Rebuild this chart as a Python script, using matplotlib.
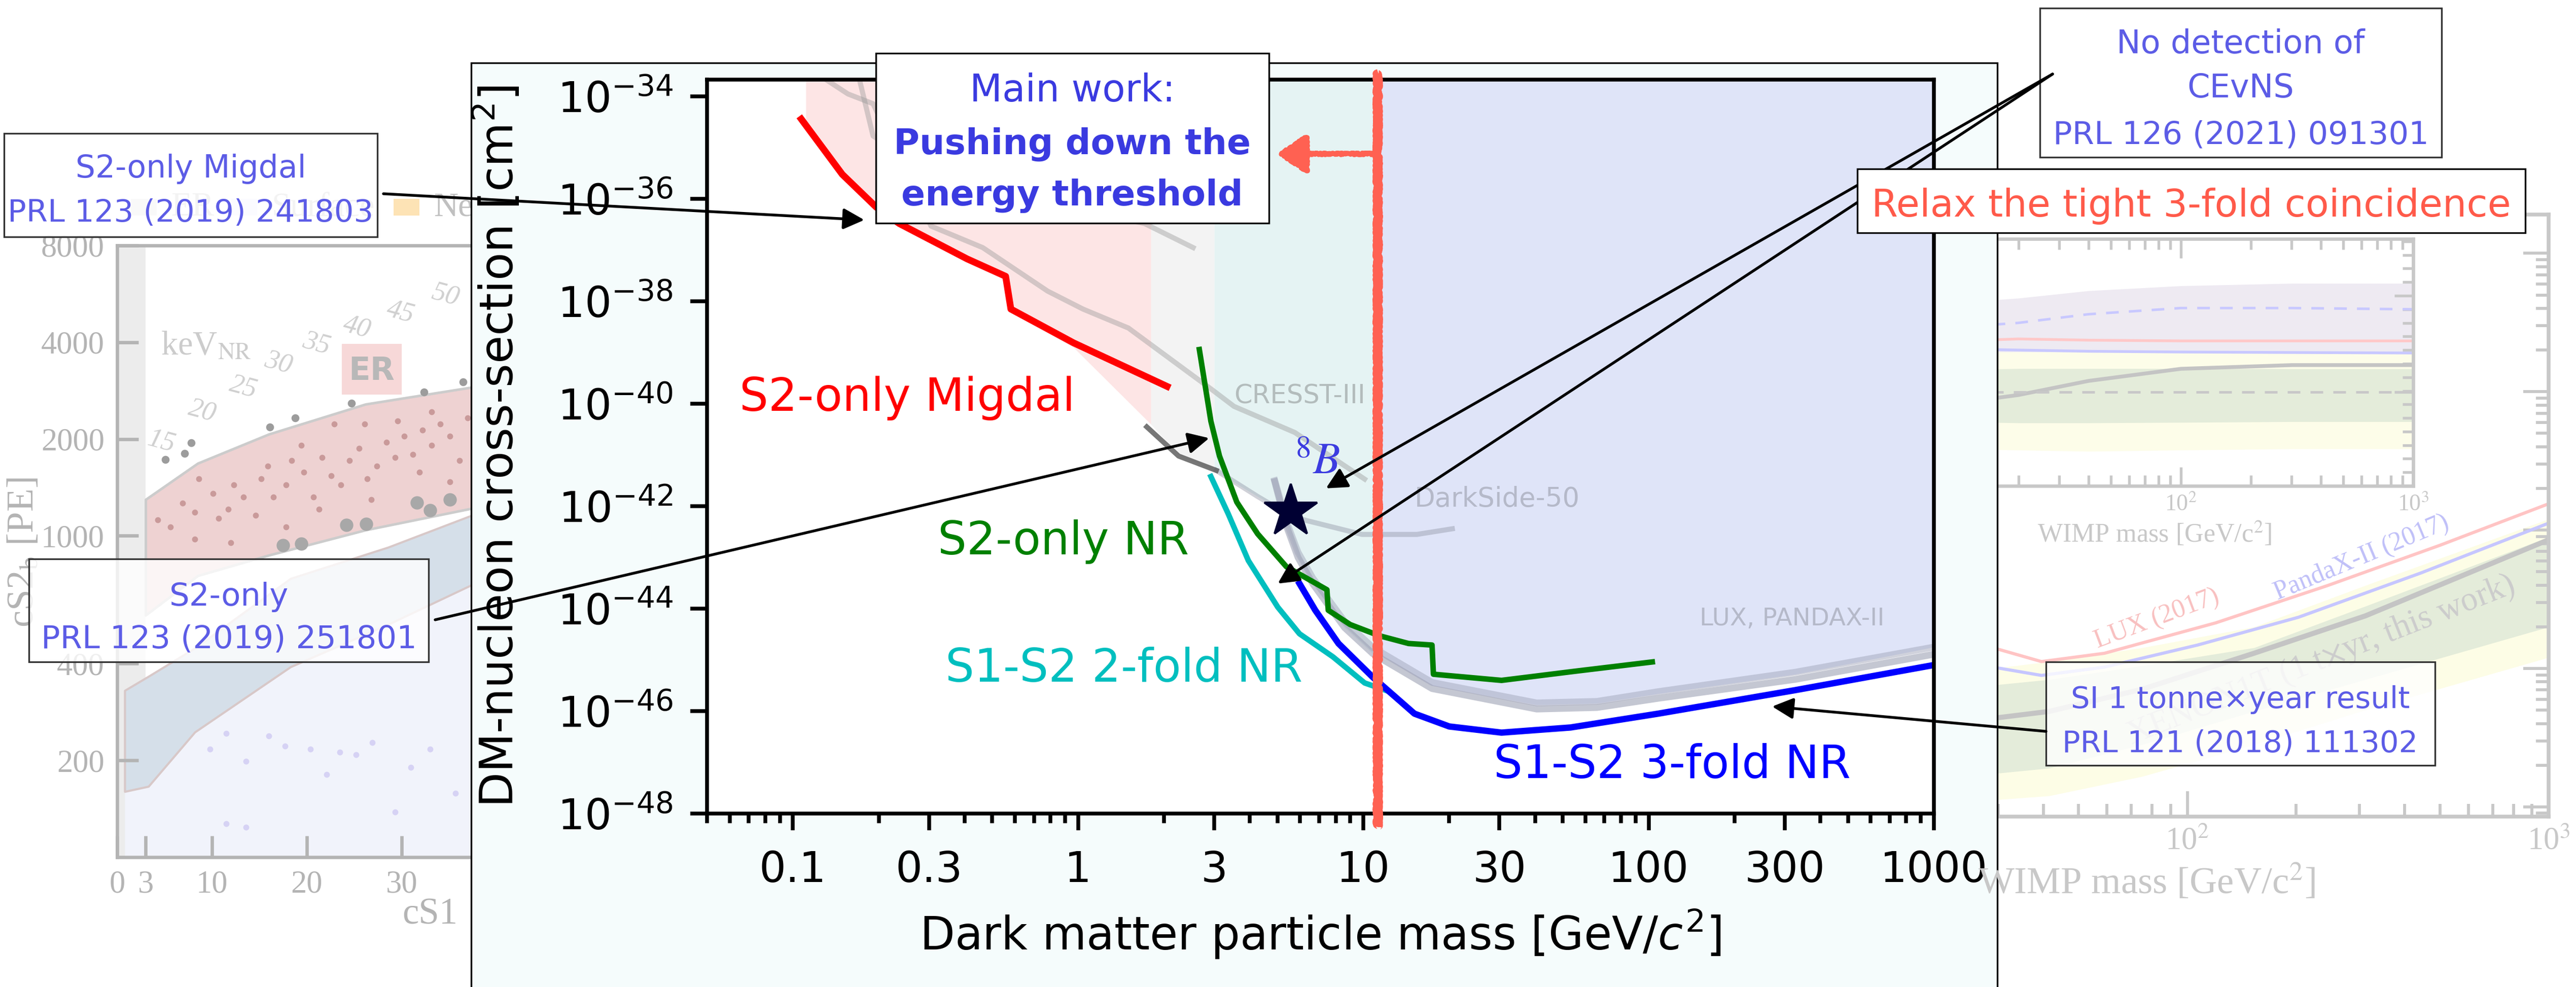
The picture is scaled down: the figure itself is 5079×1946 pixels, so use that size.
import numpy as np
import matplotlib.pyplot as plt
from matplotlib.patches import Rectangle, ConnectionPatch
from matplotlib.ticker import NullFormatter, NullLocator, MultipleLocator

W, H, DPI = 5079, 1946, 300

# ---------------------------------------------------------------
# main chart: DM mass [GeV/c^2] vs log10(cross-section / cm^2)
# ---------------------------------------------------------------
migdal_mass = [0.107, 0.149, 0.196, 0.236, 0.408, 0.557, 0.581, 0.964, 2.05]
migdal_logxs = [-34.44, -35.52, -36.16, -36.48, -37.17, -37.51, -38.15, -38.81, -39.66]

s2nr_mass = [2.66, 2.92, 3.13, 3.60, 4.26, 5.37, 7.45, 7.53, 8.99, 11.4, 14.4, 17.4, 17.6, 30.5, 55.5, 103]
s2nr_logxs = [-38.94, -40.34, -41.02, -41.92, -42.54, -43.18, -43.63, -44.03, -44.31, -44.53,
              -44.68, -44.71, -45.28, -45.40, -45.22, -45.04]

twofold_mass = [2.92, 3.36, 3.95, 5.01, 5.97, 7.82, 10.1, 12.2]
twofold_logxs = [-41.42, -42.15, -43.06, -43.97, -44.49, -44.94, -45.45, -45.61]

threefold_mass = [5.97, 6.78, 8.18, 10.8, 15.1, 20.0, 30.5, 53.2, 108, 327, 1000]
threefold_logxs = [-43.51, -44.03, -44.68, -45.34, -46.05, -46.30, -46.42, -46.32, -46.05, -45.59, -45.10]

# other experiments (faded grey)
cresst_mass = [0.125, 0.156, 0.191, 0.305, 0.463, 0.782, 1.04, 1.50, 2.94, 3.52, 5.75, 10.1]
cresst_logxs = [-33.6, -33.95, -34.14, -36.53, -36.95, -37.80, -38.15, -38.52, -39.72, -40.05, -40.56, -41.47]
cresst2_mass = [0.170, 0.191, 0.35, 1.0, 1.71, 2.53]
cresst2_logxs = [-33.6, -34.77, -35.7, -36.2, -36.48, -36.95]
ds50_mass = [1.74, 2.25, 3.05, 4.26, 5.64, 9.89, 15.4, 20.5]
ds50_logxs = [-40.45, -41.02, -41.30, -41.81, -42.21, -42.55, -42.55, -42.44]
lux_mass = [4.89, 5.37, 5.90, 6.64, 8.59, 10.8, 17.4, 40.5, 65.9, 108, 327, 1000]
lux_logxs = [-41.52, -42.38, -43.0, -43.51, -44.37, -44.88, -45.56, -45.96, -45.93, -45.75, -45.38, -44.89]
pandax_logxs = [-41.5, -42.3, -42.9, -43.4, -44.25, -44.76, -45.44, -45.84, -45.81, -45.62, -45.24, -44.75]

# lower edge of the shaded regions (already excluded parameter space)
env_mass = [0.111, 0.149, 0.196, 0.236, 0.408, 0.557, 0.581, 0.964, 1.8, 2.25, 3.0, 4.26, 4.89,
            5.37, 5.90, 6.64, 8.59, 10.8, 11.4, 17.4, 40.5, 65.9, 108, 327, 1000]
env_logxs = [-34.45, -35.5, -36.15, -36.5, -37.2, -37.55, -38.2, -38.9, -40.4, -41.0, -41.3, -41.81, -42.0,
             -42.38, -43.0, -43.51, -44.37, -44.88, -44.9, -45.5, -45.88, -45.85, -45.66, -45.28, -44.75]
band_edges = [0.111, 1.8, 3.0, 11.4, 1000]
band_colors = ['#fde5e5', '#f3f3f3', '#e5f3f3', '#dfe4f8']

xtick_vals = [0.1, 0.3, 1, 3, 10, 30, 100, 300, 1000]
xtick_labels = ['0.1', '0.3', '1', '3', '10', '30', '100', '300', '1000']
ytick_exps = [-48, -46, -44, -42, -40, -38, -36, -34]

# ---------------------------------------------------------------
# faded background: S2 vs S1 band plot (left)
# ---------------------------------------------------------------
er_cs1 = [3.0, 8.5, 16.0, 26.2, 37.2, 46.5]
er_hi = [1296, 1680, 2070, 2566, 2891, 3150]
er_lo = [566, 751, 870, 1042, 1213, 1330]
nr_cs1 = [0.8, 3.3, 8.2, 18.3, 28.6, 37.3, 46.5]
nr_hi = [330, 365, 447, 736, 921, 1154, 1300]
nr_lo = [160, 166, 245, 391, 530, 701, 800]
er_ev_cs1 = [4.3, 5.6, 6.9, 8.2, 8.6, 10.1, 10.7, 11.7, 12.3, 13.3, 14.6, 15.2, 15.9, 16.5, 17.8, 18.4,
             19.7, 20.7, 21.6, 22.6, 23.6, 24.5, 25.5, 26.4, 27.4, 28.4, 29.3, 30.3, 31.2, 32.2, 33.2,
             34.1, 35.1, 36.1, 37.0, 26.1, 22.9, 29.6, 33.2, 19.4, 17.8, 21.3, 26.8, 12.0, 8.2, 31.9, 35.1]
er_ev_cs2 = [1122, 1064, 1265, 1185, 1506, 1352, 1134, 1211, 1442, 1321, 1159, 1506, 1644, 1321, 1442, 1717,
             1574, 1321, 1754, 1539, 1442, 1717, 1873, 1506, 1644, 1956, 1754, 2043, 1793, 2134, 1913,
             2230, 2043, 1717, 2328, 2230, 2230, 2279, 2432, 1913, 1064, 1211, 1294, 953, 975, 1574, 1474]
out_cs1 = [5.1, 7.1, 7.8, 16.1, 18.8, 24.7, 32.4, 36.5]
out_cs2 = [1727, 1803, 1946, 2178, 2327, 2588, 2801, 3013]
low_cs1 = [24.2, 26.3, 17.5, 19.4, 31.6, 33.0, 35.1]
low_cs2 = [1081, 1090, 934, 944, 1268, 1200, 1296]
nr_ev_cs1 = [9.8, 11.5, 13.6, 16.0, 17.7, 20.4, 22.1, 23.5, 25.2, 26.9, 29.3, 31.0, 33.0, 35.7, 11.5, 13.6]
nr_ev_cs2 = [217, 243, 199, 238, 222, 217, 181, 212, 208, 227, 138, 190, 217, 158, 127, 124]
kev_labels = ['15', '20', '25', '30', '35', '40', '45', '50']
kev_cs1 = [4.65, 9.0, 13.3, 17.0, 21.0, 25.3, 29.9, 34.6]
kev_cs2 = [1960, 2440, 2900, 3450, 3950, 4440, 4960, 5600]

# ---------------------------------------------------------------
# faded background: SI limit plot (right)
# ---------------------------------------------------------------
rp_lux_mass = [29, 39.5, 59, 120, 245, 500, 1000]
rp_lux_logxs = [-45.85, -45.95, -45.89, -45.67, -45.40, -45.11, -44.81]
rp_pdx_mass = [29, 39.5, 59, 107, 203, 443, 1000]
rp_pdx_logxs = [-45.99, -46.05, -45.99, -45.83, -45.63, -45.31, -44.95]
rp_band_mass = [29, 41.5, 75, 153, 311, 1000]
rp_xe_logxs = [-46.36, -46.31, -46.15, -45.89, -45.62, -45.07]
rp_green_hi = [-46.12, -46.08, -45.98, -45.85, -45.55, -45.05]
rp_green_lo = [-46.76, -46.72, -46.55, -46.31, -46.08, -45.70]
rp_yell_hi = [-46.0, -45.95, -45.85, -45.7, -45.4, -44.92]
rp_yell_lo = [-46.95, -46.92, -46.78, -46.55, -46.3, -45.92]

ins_mass = [5, 10, 20, 40, 100, 300, 1000]
ins_purple_hi = [7.3, 7.4, 7.6, 7.9, 8.1, 8.2, 8.2]
ins_purple_lo = [5.42, 5.42, 5.42, 5.42, 5.42, 5.42, 5.42]
ins_dash = [6.3, 6.4, 6.6, 6.95, 7.2, 7.2, 7.15]
ins_pink = [5.85, 5.85, 5.95, 5.9, 5.87, 5.87, 5.87]
ins_lav = [5.55, 5.55, 5.5, 5.45, 5.42, 5.4, 5.38]
ins_grey = [3.1, 3.3, 3.68, 4.25, 4.74, 4.89, 4.89]
ins_green_lo = [2.6, 2.6, 2.55, 2.55, 2.57, 2.6, 2.6]
ins_green_hi = [4.7, 4.7, 4.75, 4.75, 4.75, 4.74, 4.74]
ins_yell_lo = [1.5, 1.5, 1.45, 1.4, 1.45, 1.5, 1.5]


def rect(x0, y0, x1, y1):
    return [x0 / W, 1 - y1 / H, (x1 - x0) / W, (y1 - y0) / H]


def frac(x, y):
    return (x / W, 1 - y / H)


def p10(v):
    return np.power(10.0, v)


fig = plt.figure(figsize=(W / DPI, H / DPI), dpi=DPI)
fig.patch.set_facecolor('white')
serif = 'Liberation Serif'
faint = '#b4b4b4'

# ---------------- left background panel ----------------
axL = fig.add_axes(rect(231, 484, 1100, 1690), zorder=0)
axL.set_yscale('log')
axL.set_xlim(0, 46.5)
axL.set_ylim(100, 8000)
axL.axvspan(0, 3, color='#ececec', lw=0)
axL.fill_between(nr_cs1, nr_lo, 100, color='#f1f3fb', lw=0)
axL.fill_between(er_cs1, er_lo, er_hi, facecolor='#eed2d2', edgecolor='#cccccc', lw=1.2)
axL.fill_between(nr_cs1, nr_lo, nr_hi, facecolor='#d5dfe9', edgecolor='#d8c8c8', lw=1.0)
axL.scatter(er_ev_cs1, er_ev_cs2, s=8, color='#c99a9a', lw=0)
axL.scatter(nr_ev_cs1, nr_ev_cs2, s=8, color='#d6d2f4', lw=0)
axL.scatter(out_cs1, out_cs2, s=14, color='#9c9c9c', lw=0)
axL.scatter(low_cs1, low_cs2, s=40, color='#a8a8a8', lw=0)
for t, x, y in zip(kev_labels, kev_cs1, kev_cs2):
    axL.text(x, y, t, color='#d0d0d0', fontsize=13, family=serif, style='italic',
             rotation=-15, ha='center', va='center')
axL.text(4.6, 3650, r'keV$_{\rm NR}$', color='#cccccc', fontsize=16, family=serif, math_fontfamily='stix')
axL.add_patch(Rectangle((23.7, 2750), 6.3, 1200, color='#f7d8d8', lw=0))
axL.text(26.85, 3250, 'ER', color='#b8b8b8', fontsize=15, weight='bold', ha='center', va='center')
axL.set_xticks([0, 3, 10, 20, 30], ['0', '3', '10', '20', '30'], family=serif, fontsize=15, color=faint)
axL.set_yticks([200, 400, 1000, 2000, 4000, 8000], ['200', '400', '1000', '2000', '4000', '8000'],
               family=serif, fontsize=15, color=faint)
axL.yaxis.set_minor_locator(NullLocator())
axL.tick_params(direction='in', length=10, width=1.6, colors=faint, pad=6)
for s in axL.spines.values():
    s.set_color(faint)
    s.set_linewidth(1.6)
fig.text(48 / W, 1 - 1089 / H, r'cS2$_{\rm b}$ [PE]', rotation=90, ha='center', va='center',
         color=faint, fontsize=18, family=serif, math_fontfamily='stix')
fig.text(848 / W, 1 - 1822 / H, 'cS1', ha='center', va='baseline', color=faint, fontsize=17.5, family=serif)
for x0, col, name in [(258, '#e2e2e2', 'ER'), (456, '#ececff', 'Surface'), (776, '#fde3b5', 'Ne')]:
    fig.add_artist(Rectangle(frac(x0, 425), 51 / W, 33 / H, transform=fig.transFigure, color=col, lw=0, zorder=0.2))
    fig.text((x0 + 79) / W, 1 - 425 / H, name, color='#c0c0c0', fontsize=16, family=serif, zorder=0.3)

# ---------------- right background panel ----------------
axR = fig.add_axes(rect(3600, 423, 5025, 1610), zorder=0)
axR.set_xscale('log')
axR.set_yscale('log')
axR.set_xlim(10, 1000)
axR.set_ylim(p10(-47.07), p10(-42.72))
axR.fill_between(rp_band_mass, p10(rp_yell_lo), p10(rp_yell_hi), color='#fdfde6', lw=0)
axR.fill_between(rp_band_mass, p10(rp_green_lo), p10(rp_green_hi), color='#e4ecda', lw=0)
axR.plot(rp_lux_mass, p10(rp_lux_logxs), color='#ffc4c4', lw=1.5)
axR.plot(rp_pdx_mass, p10(rp_pdx_logxs), color='#c6c6ff', lw=1.5)
axR.plot(rp_band_mass, p10(rp_xe_logxs), color='#c4c4c4', lw=2.4)
axR.text(82.4, p10(-45.645), 'LUX (2017)', color='#f8c0c0', fontsize=12.5, family=serif,
         rotation=20.6, ha='center', va='center')
axR.text(303, p10(-45.20), 'PandaX-II (2017)', color='#c0c0f8', fontsize=12.5, family=serif,
         rotation=22.7, ha='center', va='center')
axR.text(234, p10(-45.94), r'XENON1T (1 t$\times$yr, this work)', color='#cccccc', fontsize=16,
         family=serif, rotation=21.6, ha='center', va='center', math_fontfamily='stix')
axR.set_xticks([100, 1000], [r'10$^2$', r'10$^3$'], family=serif, fontsize=15, color='#c8c8c8',
               math_fontfamily='stix')
axR.xaxis.set_minor_formatter(NullFormatter())
axR.yaxis.tick_right()
axR.tick_params(which='both', direction='in', colors='#c8c8c8', width=1.4, labelright=False, pad=5)
axR.tick_params(which='major', length=12)
axR.tick_params(which='minor', length=6)
for s in axR.spines.values():
    s.set_color('#c8c8c8')
    s.set_linewidth(1.8)
fig.text(4565 / W, 1 - 1762 / H, r'WIMP mass [GeV/c$^2$]', ha='right', va='baseline', color='#c8c8c8',
         fontsize=18, family=serif, math_fontfamily='stix')

axI = fig.add_axes(rect(3700, 471, 4758, 958), zorder=0.5)
axI.set_xscale('log')
axI.set_xlim(4.9, 1000)
axI.set_ylim(0, 10)
axI.fill_between(ins_mass, ins_purple_lo, ins_purple_hi, color='#eeeaf2', lw=0)
axI.fill_between(ins_mass, ins_yell_lo, ins_purple_lo, color='#fdfde9', lw=0)
axI.fill_between(ins_mass, ins_green_lo, ins_green_hi, color='#e4ecda', lw=0)
axI.plot(ins_mass, ins_dash, color='#c8c8ff', lw=1.2, ls=(0, (5, 4)))
axI.plot(ins_mass, ins_pink, color='#ffc8c8', lw=1.3)
axI.plot(ins_mass, ins_lav, color='#c8c8ff', lw=1.3)
axI.plot(ins_mass, ins_grey, color='#c4c4c4', lw=1.8)
axI.axhline(3.8, color='#c8c8c8', lw=1.2, ls=(0, (5, 4)))
axI.set_xticks([100, 1000], [r'10$^2$', r'10$^3$'], family=serif, fontsize=11, color='#c8c8c8',
               math_fontfamily='stix')
axI.xaxis.set_minor_formatter(NullFormatter())
axI.set_yticks([3.8, 7.7], ['', ''])
axI.yaxis.set_minor_locator(MultipleLocator(0.55))
axI.tick_params(which='both', direction='in', colors='#c8c8c8', width=1.3, top=True, right=True,
                left=False, pad=4)
axI.tick_params(which='major', length=9)
axI.tick_params(which='minor', length=5)
for s in axI.spines.values():
    s.set_color('#c8c8c8')
    s.set_linewidth(1.6)
fig.text(4248 / W, 1 - 1053 / H, r'WIMP mass [GeV/c$^2$]', ha='center', va='center', color='#c8c8c8',
         fontsize=12.5, family=serif, math_fontfamily='stix')

# ---------------- central panel ----------------
fig.add_artist(Rectangle((929 / W, -0.01), (3938 - 929) / W, 1 - 124 / H + 0.01, transform=fig.transFigure,
                         fc='#f5fcfc', ec='black', lw=0.8, zorder=1))

ax = fig.add_axes(rect(1394, 157, 3813, 1604), zorder=2)
ax.set_facecolor('white')
ax.set_xscale('log')
ax.set_yscale('log')
ax.set_xlim(0.05, 1000)
ax.set_ylim(p10(-48), p10(-33.67))

env = np.array(env_mass)
for lo, hi, col in zip(band_edges[:-1], band_edges[1:], band_colors):
    ax.fill_between(env, p10(env_logxs), p10(-33), where=(env >= lo) & (env <= hi),
                    color=col, lw=0, zorder=0.5)

ax.plot(cresst_mass, p10(cresst_logxs), color='#999999', alpha=0.42, lw=2.4, zorder=1)
ax.plot(cresst2_mass, p10(cresst2_logxs), color='#999999', alpha=0.42, lw=2.4, zorder=1)
ax.plot(ds50_mass[2:], p10(ds50_logxs[2:]), color='#8f93a3', alpha=0.42, lw=2.4, zorder=1)
ax.plot(ds50_mass[:3], p10(ds50_logxs[:3]), color='#555555', alpha=0.8, lw=2.4, zorder=1)
ax.plot(lux_mass, p10(lux_logxs), color='#9599ad', alpha=0.55, lw=3.2, zorder=1)
ax.plot(lux_mass, p10(pandax_logxs), color='#a3a7bb', alpha=0.5, lw=3.2, zorder=1)

ax.plot(migdal_mass, p10(migdal_logxs), color='red', lw=3.2, zorder=2)
ax.plot(s2nr_mass, p10(s2nr_logxs), color='green', lw=2.6, zorder=2)
ax.plot(twofold_mass, p10(twofold_logxs), color='#00bfbf', lw=2.6, zorder=2)
ax.plot(threefold_mass, p10(threefold_logxs), color='blue', lw=3.0, zorder=2)

ax.text(0.065, p10(-40.14), 'S2-only Migdal', color='red', fontsize=21.5, va='baseline')
ax.text(0.322, p10(-42.94), 'S2-only NR', color='green', fontsize=21.5, va='baseline')
ax.text(0.343, p10(-45.43), 'S1-S2 2-fold NR', color='#00bfbf', fontsize=21.5, va='baseline')
ax.text(28.6, p10(-47.31), 'S1-S2 3-fold NR', color='blue', fontsize=21.5, va='baseline')
ax.text(3.52, p10(-39.99), 'CRESST-III', color='#b3bcbc', fontsize=12.3, va='baseline')
ax.text(15.1, p10(-42.01), 'DarkSide-50', color='#b5b9c9', fontsize=12.7, va='baseline')
ax.text(150.6, p10(-44.33), 'LUX, PANDAX-II', color='#b5b9c9', fontsize=11.6, va='baseline')

ax.plot(5.57, p10(-42.10), marker='*', ms=26, color='#000033', zorder=4)
ax.text(5.76, p10(-41.36), r'${}^{8}B$', color='#3c3ce0', fontsize=21, va='baseline',
        math_fontfamily='stix', zorder=4)

thr, = ax.plot([11.2, 11.2], [p10(-48.26), p10(-33.54)], color='#ff6152', lw=4.0,
               clip_on=False, zorder=5, solid_capstyle='butt')
thr.set_sketch_params(scale=2, length=6, randomness=20)
ann = ax.annotate('', xy=(4.97, p10(-35.12)), xytext=(11.2, p10(-35.12)), zorder=5,
                  arrowprops=dict(arrowstyle='-|>,head_length=0.6,head_width=0.4', mutation_scale=20,
                                  color='#ff6152', lw=2.4, shrinkA=0, shrinkB=0))
ann.arrow_patch.set_sketch_params(scale=1.5, length=6, randomness=20)

ax.set_xticks(xtick_vals, xtick_labels)
ax.set_xticks([v * d for d in (0.01, 0.1, 1, 10, 100) for v in (2, 4, 5, 6, 7, 8, 9) if 0.05 <= v * d < 1000],
              minor=True)
ax.xaxis.set_minor_formatter(NullFormatter())
ax.set_yticks([p10(e) for e in ytick_exps])
ax.yaxis.set_minor_locator(NullLocator())
ax.tick_params(which='both', direction='out', width=1.8, labelsize=20, top=False, right=False)
ax.tick_params(axis='x', which='major', length=8, pad=9)
ax.tick_params(axis='x', which='minor', length=4.5)
ax.tick_params(axis='y', which='major', length=8, pad=8)
for s in ax.spines.values():
    s.set_linewidth(1.8)
ax.set_xlabel(r'Dark matter particle mass [GeV/$c^2$]', fontsize=21.5)
ax.set_ylabel(r'DM-nucleon cross-section [cm$^2$]', fontsize=21.5)
ax.xaxis.set_label_coords(0.5, -0.128)
ax.yaxis.set_label_coords(-0.150, 0.5)


# ---------------- call-out boxes and arrows ----------------
def box(x0, y0, x1, y1, ec='#333333', alpha=1.0, lw=0.8, z=3.5):
    fig.add_artist(Rectangle(frac(x0, y1), (x1 - x0) / W, (y1 - y0) / H, transform=fig.transFigure,
                             fc=(1, 1, 1, alpha), ec=ec, lw=lw, zorder=z))


def label(x, y, s, z=3.6, **kw):
    fig.text(x / W, 1 - y / H, s, ha='center', va='baseline', zorder=z, **kw)


def arrow(start, end):
    fig.add_artist(ConnectionPatch(xyA=frac(*start), coordsA='figure fraction', xyB=end, coordsB='data',
                                   axesB=ax, arrowstyle='-|>', mutation_scale=21, lw=1.3,
                                   color='black', zorder=4))


ref = '#5c5ce6'
box(8, 263, 744, 467, alpha=0.82)
label(376, 350, 'S2-only Migdal', color=ref, fontsize=14.8)
label(376, 437, 'PRL 123 (2019) 241803', color=ref, fontsize=14.6)

box(57, 1102, 845, 1305, alpha=0.8)
label(451, 1194, 'S2-only', color=ref, fontsize=15)
label(451, 1278, 'PRL 123 (2019) 251801', color=ref, fontsize=15)

box(1727, 105, 2502, 440, ec='black')
label(2114, 200, 'Main work:', color='#3a3ae0', fontsize=17.8)
label(2114, 303, 'Pushing down the', color='#3a3ae0', fontsize=16.7, weight='bold')
label(2114, 405, 'energy threshold', color='#3a3ae0', fontsize=16.7, weight='bold')

box(4022, 16, 4814, 310)
label(4418, 105, 'No detection of', color=ref, fontsize=15.3)
label(4418, 192, 'CEvNS', color=ref, fontsize=15.3)
label(4418, 283, 'PRL 126 (2021) 091301', color=ref, fontsize=15)

box(4034, 1305, 4801, 1509, alpha=0.8)
label(4417, 1396, 'SI 1 tonne\u00d7year result', color=ref, fontsize=14.2)
label(4417, 1483, 'PRL 121 (2018) 111302', color=ref, fontsize=14.2)

box(3662, 333, 4979, 459, ec='black', z=4.5)
label(4320, 427, 'Relax the tight 3-fold coincidence', color='#ff5a4a', fontsize=18, z=4.6)

arrow((756, 382), (0.178, p10(-36.41)))
arrow((858, 1222), (2.88, p10(-40.67)))
arrow((4047, 146), (7.39, p10(-41.65)))
arrow((4047, 146), (5.01, p10(-43.51)))
arrow((4034, 1442), (271, p10(-45.91)))

fig.savefig('out.png', dpi=DPI)
